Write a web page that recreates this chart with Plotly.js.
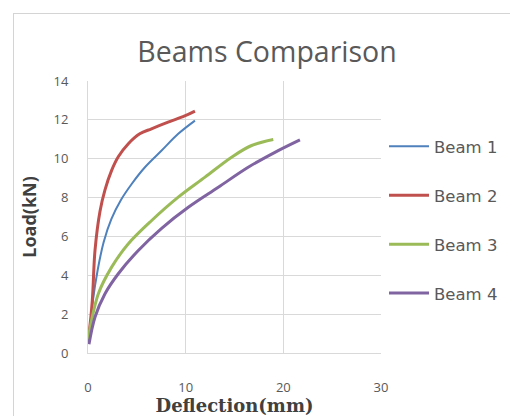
<!DOCTYPE html>
<html>
<head>
<meta charset="utf-8">
<script src="https://cdn.plot.ly/plotly-3.0.1.min.js"></script>
<style>
html,body{margin:0;padding:0;background:#fff;overflow:hidden;}
#chart{position:absolute;left:0;top:0;width:510px;height:416px;}
#frame{position:absolute;left:13px;top:13px;width:520px;height:420px;border:1px solid #d4d4d4;pointer-events:none;}
</style>
</head>
<body>
<div id="chart"></div>
<div id="frame"></div>
<script>
var seriesNames = ["Beam 1", "Beam 2", "Beam 3", "Beam 4"];
var seriesColors = ["#4F81BD", "#C0504D", "#9BBB59", "#8064A2"];

var beam1X = [0, 0.14, 0.5, 1.0, 1.6, 2.4, 3.4, 4.47, 5.83, 7.54, 9.24, 10.95];
var beam1Y = [0.6, 1.0, 2.7, 4.3, 5.7, 6.9, 7.9, 8.7, 9.56, 10.42, 11.28, 11.96];

var beam2X = [0, 0.1, 0.44, 0.72, 1.23, 1.74, 2.42, 3.1, 4.13, 5.3, 6.5, 8.2, 9.9, 10.95];
var beam2Y = [0.7, 1.0, 2.7, 5.3, 7.3, 8.4, 9.4, 10.1, 10.77, 11.28, 11.54, 11.88, 12.2, 12.45];

var beam3X = [0, 0.1, 1.06, 2.42, 4.13, 6.52, 9.24, 11.98, 14.7, 16.75, 18.97];
var beam3Y = [0.7, 1.0, 3.05, 4.42, 5.62, 6.82, 8.02, 9.05, 10.08, 10.68, 10.99];

var beam4X = [0.1, 0.72, 1.74, 3.1, 5.15, 7.54, 10.27, 13.34, 16.4, 19.14, 21.7];
var beam4Y = [0.45, 1.85, 3.05, 4.08, 5.28, 6.42, 7.5, 8.53, 9.56, 10.33, 10.97];

var xTicks = [0, 10, 20, 30];
var yTicks = [0, 2, 4, 6, 8, 10, 12, 14];

var xs = [beam1X, beam2X, beam3X, beam4X];
var ys = [beam1Y, beam2Y, beam3Y, beam4Y];

var traces = seriesNames.map(function (n, i) {
  return {
    type: "scatter", mode: "lines", name: n,
    x: xs[i], y: ys[i],
    legendgroup: "g" + i,
    line: {color: seriesColors[i], width: 3, shape: "spline", smoothing: 1}
  };
});
traces[0].line.width = 2;

var layout = {
  width: 510, height: 416,
  margin: {l: 88, r: 129, t: 81, b: 63},
  paper_bgcolor: "#ffffff", plot_bgcolor: "#ffffff",
  font: {family: "Open Sans, sans-serif", color: "#595959"},
  title: {
    text: "Beams Comparison", x: 267 / 510, xref: "container", xanchor: "center",
    y: 1 - 52 / 416, yref: "container", yanchor: "middle",
    font: {family: "Open Sans, sans-serif", size: 28.5, color: "#595959"}
  },
  xaxis: {
    range: [0, 30], tickvals: xTicks, ticktext: xTicks.map(String),
    showgrid: true, gridcolor: "#d9d9d9", gridwidth: 1,
    zeroline: false, showline: true, linecolor: "#d9d9d9", linewidth: 1,
    ticks: "", ticklabelstandoff: 22,
    tickfont: {family: "Open Sans, sans-serif", size: 13, color: "#595959"},
    title: {text: "Deflection(mm)", standoff: 2,
      font: {family: "DejaVu Serif, serif", size: 18, color: "#404040", weight: "bold"}}
  },
  yaxis: {
    range: [0, 14], tickvals: yTicks, ticktext: yTicks.map(String),
    showgrid: true, gridcolor: "#d9d9d9", gridwidth: 1,
    zeroline: false, showline: true, linecolor: "#d9d9d9", linewidth: 1,
    ticks: "", ticklabelstandoff: 16,
    tickfont: {family: "Open Sans, sans-serif", size: 13, color: "#595959"},
    title: {text: "Load(kN)", standoff: 12,
      font: {family: "Open Sans, sans-serif", size: 18, color: "#404040", weight: "bold"}}
  },
  showlegend: true,
  legend: {
    x: 384 / 510, xref: "container", xanchor: "left",
    y: 1 - 129 / 416, yref: "container", yanchor: "top",
    tracegroupgap: 24.5, itemwidth: 40,
    font: {family: "DejaVu Sans, sans-serif", size: 16.5, color: "#595959"},
    bgcolor: "rgba(0,0,0,0)"
  }
};

Plotly.newPlot("chart", traces, layout, {staticPlot: true, displayModeBar: false});
</script>
</body>
</html>
